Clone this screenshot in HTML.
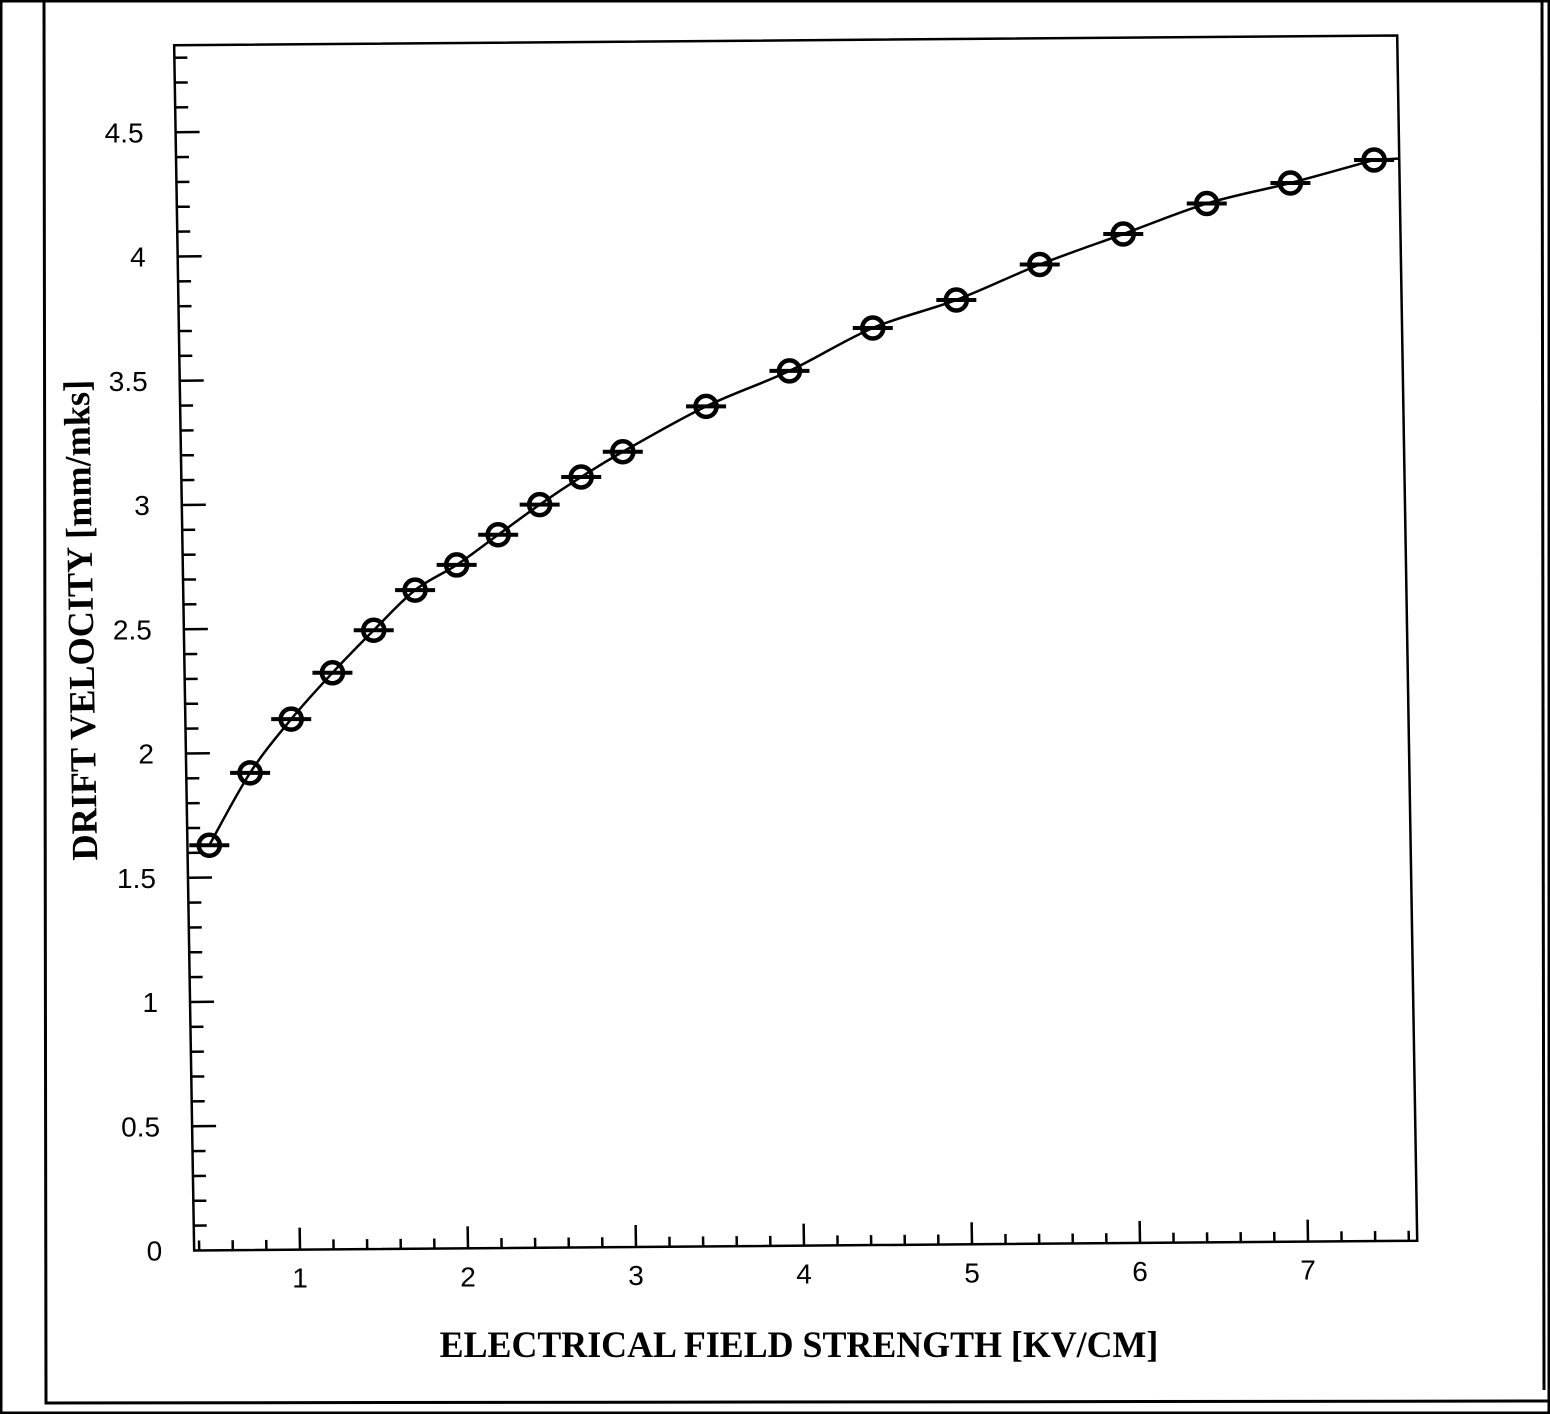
<!DOCTYPE html>
<html><head><meta charset="utf-8"><style>
html,body{margin:0;padding:0;background:#fff}
svg{display:block}
</style></head><body>
<svg id="chart" width="1550" height="1414" viewBox="0 0 1550 1414" xmlns="http://www.w3.org/2000/svg">
<rect x="1" y="1" width="1548" height="1412" fill="#fff" stroke="#000" stroke-width="3"/>
<polyline points="44,0 46,1403 1550,1401" fill="none" stroke="#000" stroke-width="3"/>
<line x1="1542" y1="0" x2="1544" y2="1390" stroke="#000" stroke-width="3"/>
<g id="plot"></g>
<text x="0" y="0" font-family="Liberation Serif, serif" font-size="37" font-weight="bold" text-anchor="middle" transform="translate(799,1357) scale(0.97,1)">ELECTRICAL FIELD STRENGTH [KV/CM]</text>
<text x="0" y="0" font-family="Liberation Serif, serif" font-size="37" font-weight="bold" text-anchor="middle" transform="translate(93,620) rotate(-91) scale(0.98,1)">DRIFT VELOCITY [mm/mks]</text>
</svg>
<script>
const xValues = [0.5,0.75,1.0,1.25,1.5,1.75,2.0,2.25,2.5,2.75,3.0,3.5,4.0,4.5,5.0,5.5,6.0,6.5,7.0,7.5];
const yValues = [1.63,1.92,2.135,2.32,2.49,2.65,2.75,2.87,2.99,3.10,3.20,3.38,3.52,3.69,3.80,3.94,4.06,4.18,4.26,4.35];
const xTickLabels = ["1","2","3","4","5","6","7"];
const yTickLabels = ["0","0.5","1","1.5","2","2.5","3","3.5","4","4.5"];

const NS="http://www.w3.org/2000/svg";
const g=document.getElementById('plot');
function P(x,y){const u=168*x, v=248.5*y; return [132+u-0.0166*v, 1251-v-0.008*u];}
function mk(tag,attrs){const e=document.createElementNS(NS,tag);for(const k in attrs)e.setAttribute(k,attrs[k]);g.appendChild(e);return e;}
const xmin=0.37,xmax=7.65,ymax=4.85;
const c=[P(xmin,0),P(xmax,0),P(xmax,ymax),P(xmin,ymax)];
const frame=mk('polygon',{points:c.map(p=>p.join(',')).join(' '),fill:'none',stroke:'#000','stroke-width':2.5});


for(let i=2;i<=38;i++){const x=i*0.2;if(x<xmin)continue;const major=i%5===0;const p=P(x,0);
 const t=mk('line',{x1:p[0],y1:p[1],x2:p[0]-0.0166*(major?22:10),y2:p[1]-(major?22:10),stroke:'#000','stroke-width':2.5});
 
 }
xTickLabels.forEach((s,i)=>{const p=P(+s,0);const t=mk('text',{x:p[0],y:p[1]+38,'font-family':'Liberation Sans, sans-serif','font-size':28,'text-anchor':'middle'});t.textContent=s;
 
 });
for(let i=1;i<=48;i++){const y=i*0.1;const major=i%5===0;const p=P(xmin,y);
 const L=major?24:13;
 const t=mk('line',{x1:p[0],y1:p[1],x2:p[0]+L,y2:p[1]-0.008*L,stroke:'#000','stroke-width':2.5});
 
 }
yTickLabels.forEach(s=>{const p=P(xmin,+s);const t=mk('text',{x:p[0]-32,y:p[1]+10,'font-family':'Liberation Sans, sans-serif','font-size':28,'text-anchor':'end'});t.textContent=s;
 
 });
const pts=xValues.map((x,i)=>P(x,yValues[i]));
let d='M'+pts[0].join(',');
for(let i=0;i<pts.length-1;i++){const p0=pts[Math.max(0,i-1)],p1=pts[i],p2=pts[i+1],p3=pts[Math.min(pts.length-1,i+2)];
 d+=` C${p1[0]+(p2[0]-p0[0])/6},${p1[1]+(p2[1]-p0[1])/6} ${p2[0]-(p3[0]-p1[0])/6},${p2[1]-(p3[1]-p1[1])/6} ${p2[0]},${p2[1]}`;}
const end=P(xmax,yValues[yValues.length-1]+0.005);d+=` L${end[0]},${end[1]}`;
const curve=mk('path',{d:d,fill:'none',stroke:'#000','stroke-width':2.5});


pts.forEach(p=>{
 const e=mk('line',{x1:p[0]-20,y1:p[1],x2:p[0]+20,y2:p[1],stroke:'#000','stroke-width':4});
 
 
 const ci=mk('circle',{cx:p[0],cy:p[1],r:10.5,fill:'none',stroke:'#000','stroke-width':4.5});
 
 
});
</script>
</body></html>
